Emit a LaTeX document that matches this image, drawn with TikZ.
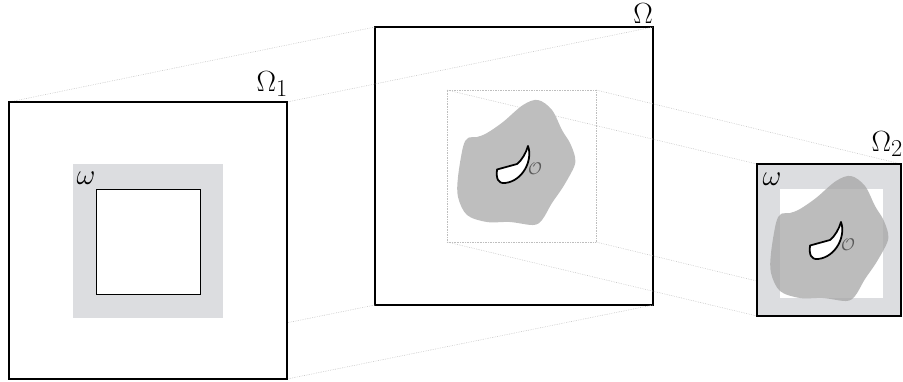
\documentclass[tikz,border=0pt]{standalone}
\usepackage{amsmath}
\usetikzlibrary{fit}
\definecolor{omegagray}{RGB}{220,221,224}
\definecolor{blobgray}{RGB}{190,190,190}
\definecolor{projgray}{RGB}{190,190,190}
\pgfdeclarelayer{front}
\pgfsetlayers{main,front}

% control region and obstacle (pixel units of the big domain)
\newcommand{\blobshape}{plot[smooth cycle, tension=0.55] coordinates {(538,100) (552,110) (562,130) (570,143) (575,157) (574,167) (563,187) (552,203) (542,220) (533,225) (510,222) (487,222) (467,215) (458,197) (458,177) (463,147) (468,138) (477,137) (487,133) (503,122) (523,105)}}
\newcommand{\holeshape}{(528,146) .. controls (533,160) and (523,181) .. (505,183) .. controls (498,183.5) and (496,179) .. (497,169.5) -- (517,164) .. controls (522,160) and (526,153) .. (528,146) -- cycle}

\begin{document}
\begin{tikzpicture}[x=0.03cm, y=-0.03cm,
  frame/.style={draw, line width=1.1pt, fill=white, inner sep=0pt, outer sep=0pt},
  proj/.style={draw=projgray, densely dotted, line width=0.5pt},
  lbl/.style={font=\fontsize{28}{32}\selectfont, inner sep=0pt, anchor=base east},
  wlbl/.style={font=\fontsize{25}{30}\selectfont, inner sep=0pt},
  olbl/.style={text=black!65, font=\fontsize{15}{18}\selectfont, inner sep=0pt},
  hole/.style={fill=white, draw, line width=1.5pt, line join=round},
  box/.style={inner sep=0pt, outer sep=0pt}
]
\useasboundingbox (0,0) rectangle (903,381);
% big domain Omega
\node[frame, fill=none, fit={(375,27) (653,305)}] (Om) {};
\node[lbl] (OmL) at (653,23) {$\Omega$};
\fill[blobgray] \blobshape;
\draw[hole] \holeshape;
\node[olbl] (O) at (535,169) {$\mathcal{O}$};
\node[box, draw=projgray, densely dotted, fit={(447,90) (596,242)}] (zoom) {};

\begin{pgfonlayer}{front}
% Omega_1
\node[frame, fit={(9,102) (287,379)}] (Om1) {};
\node[box, fill=omegagray, fit={(73,164) (223,318)}] (w1) {};
\node[box, draw, fill=white, line width=0.7pt, fit={(96,189) (200,294)}] (in1) {};
\node[wlbl] (w1L) at (86,178) {$\omega$};
\node[lbl] (Om1L) at (288,91) {$\Omega_1$};
% Omega_2
\node[frame, fill=omegagray, fit={(757,164) (901,316)}] (Om2) {};
\node[box, fill=white, fit={(780,189) (883,298)}] (in2) {};
\begin{scope}[shift={(313,76)}]
  \fill[black!35, fill opacity=0.75] \blobshape;
  \draw[hole] \holeshape;
  \node[olbl] (O2) at (535,169) {$\mathcal{O}$};
\end{scope}
\node[wlbl] (w2L) at (772,179) {$\omega$};
\node[lbl] (Om2L) at (903,151) {$\Omega_2$};
\end{pgfonlayer}

% projection lines
\foreach \c in {north west,north east,south west,south east}{
  \draw[proj] (Om1.\c) -- (Om.\c);
  \draw[proj] (zoom.\c) -- (Om2.\c);
}
\end{tikzpicture}
\end{document}
